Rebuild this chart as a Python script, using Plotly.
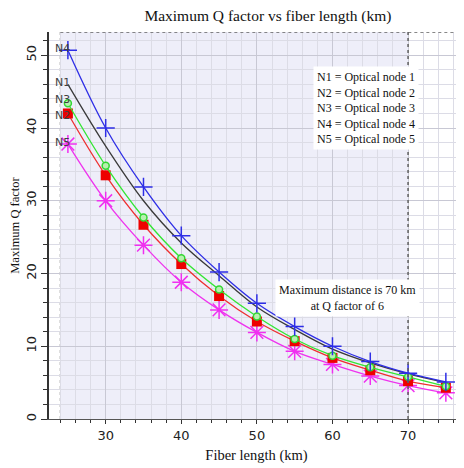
import plotly.graph_objects as go

fiber_km = [25, 30, 35, 40, 45, 50, 55, 60, 65, 70, 75]
n1 = [46.0, 37.5, 30.0, 24.2, 19.7, 15.4, 12.3, 9.6, 7.7, 6.2, 5.0]
n2 = [42.0, 33.5, 26.7, 21.3, 16.9, 13.4, 10.7, 8.4, 6.7, 5.2, 4.3]
n3 = [43.4, 34.8, 27.7, 22.1, 17.8, 14.1, 11.0, 8.7, 7.1, 5.8, 4.5]
n4 = [50.7, 40.0, 31.9, 25.2, 20.2, 15.9, 12.7, 10.0, 7.9, 6.3, 5.1]
n5 = [37.8, 30.0, 23.9, 18.8, 15.0, 11.9, 9.3, 7.5, 5.9, 4.6, 3.6]

node_names = ["N1", "N2", "N3", "N4", "N5"]
legend_lines = ["N1 = Optical node 1", "N2 = Optical node 2", "N3 = Optical node 3",
                "N4 = Optical node 4", "N5 = Optical node 5"]
note_lines = ["Maximum distance is 70 km", "at Q factor of 6"]

serif = "Liberation Serif, Times New Roman, serif"
sans = "DejaVu Sans, Arial, sans-serif"

fig = go.Figure()

styles = {
    "N1": dict(color="#3a3a3a", marker=dict(size=1, opacity=0)),
    "N4": dict(color="#2e2ee6", marker=dict(symbol="cross-thin", size=13, line=dict(color="#2e2ee6", width=1.5))),
    "N3": dict(color="#33e633", marker=dict(symbol="circle", size=7, color="#b8f0b0", line=dict(color="#33d633", width=1.5))),
    "N2": dict(color="#ee3030", marker=dict(symbol="square", size=10, color="#ee0000", line=dict(width=0))),
    "N5": dict(color="#ee33ee", marker=dict(symbol="asterisk", size=15, line=dict(color="#f030f0", width=1.5))),
}
data = {"N1": n1, "N2": n2, "N3": n3, "N4": n4, "N5": n5}

for name in ["N1", "N5", "N2", "N3", "N4"]:
    st = styles[name]
    mode = "lines" if name == "N1" else "lines+markers"
    fig.add_trace(go.Scatter(x=fiber_km, y=data[name], mode=mode, name=name,
                             line=dict(color=st["color"], width=1.3, shape="spline"),
                             marker=st["marker"], showlegend=False))

# node labels at the start of each curve
label_shift = {"N1": 2, "N2": -2, "N3": 4, "N4": 2, "N5": 2}
for name in node_names:
    fig.add_annotation(x=fiber_km[0], y=data[name][0], text=name, showarrow=False,
                       xanchor="right", xshift=4, yshift=label_shift[name],
                       font=dict(family=sans, size=11, color="#404040"))

# shaded region and dotted frame
fig.add_shape(type="rect", x0=24, x1=70, y0=0, y1=53.2, fillcolor="#eeeef9",
              line=dict(width=0), layer="below")
fig.add_shape(type="line", x0=24, x1=24, y0=0, y1=53.2, line=dict(color="#808080", width=1.2, dash="dot"), layer="below")
fig.add_shape(type="line", x0=70, x1=70, y0=0, y1=53.2, line=dict(color="#606060", width=1.5, dash="dot"))
fig.add_shape(type="line", x0=24, x1=77.4, y0=53.2, y1=53.2, line=dict(color="#606060", width=1.5, dash="dot"))

fig.add_annotation(x=0.636, y=0.912, xref="paper", yref="paper", xanchor="left", yanchor="top",
                   text="<br>".join(legend_lines), showarrow=False, align="left",
                   bgcolor="white", borderpad=3,
                   font=dict(family=serif, size=12, color="#111111"))
fig.add_annotation(x=62, y=16.6, xanchor="center", yanchor="middle",
                   text="<br>".join(note_lines), showarrow=False, align="center",
                   bgcolor="white", borderpad=3,
                   font=dict(family=serif, size=12, color="#111111"))

# page body has an 8px margin, so the figure is sized to fill the rest of the window
fig.update_layout(
    width=456, height=460,
    margin=dict(l=41, r=0, t=24, b=49),
    paper_bgcolor="white", plot_bgcolor="white",
    title=dict(text="Maximum Q factor vs fiber length (km)", x=0.570, xanchor="center",
               y=1 - 7.5 / 460, yanchor="middle", font=dict(family=serif, size=15.5, color="#111111")),
)
fig.update_xaxes(
    range=[22.5, 77.4], tickvals=[30, 40, 50, 60, 70], showgrid=True,
    gridcolor="#c8c8d4", gridwidth=1,
    minor=dict(dtick=2, tick0=0, showgrid=True, gridcolor="#dcdce6", ticks="outside", ticklen=3, tickcolor="#333333"),
    ticks="outside", ticklen=4, tickcolor="#333333",
    showline=True, linecolor="#555555", linewidth=1, zeroline=False,
    tickfont=dict(family=sans, size=13, color="#222222"),
    title=dict(text="Fiber length (km)", font=dict(family=serif, size=14.5, color="#111111"), standoff=8),
)
fig.update_yaxes(
    range=[0, 53.2], tickvals=[0, 10, 20, 30, 40, 50], showgrid=True,
    gridcolor="#c8c8d4", gridwidth=1, tickangle=-90,
    minor=dict(dtick=2, tick0=0, showgrid=True, gridcolor="#dcdce6", ticks="outside", ticklen=4, tickcolor="#333333"),
    ticks="outside", ticklen=6, tickcolor="#333333",
    showline=True, linecolor="#333333", linewidth=1.5, zeroline=False,
    tickfont=dict(family=sans, size=13, color="#222222"),
    title=dict(text="Maximum Q factor", font=dict(family=serif, size=12.5, color="#111111"), standoff=6),
)

fig.write_html("out.html")
